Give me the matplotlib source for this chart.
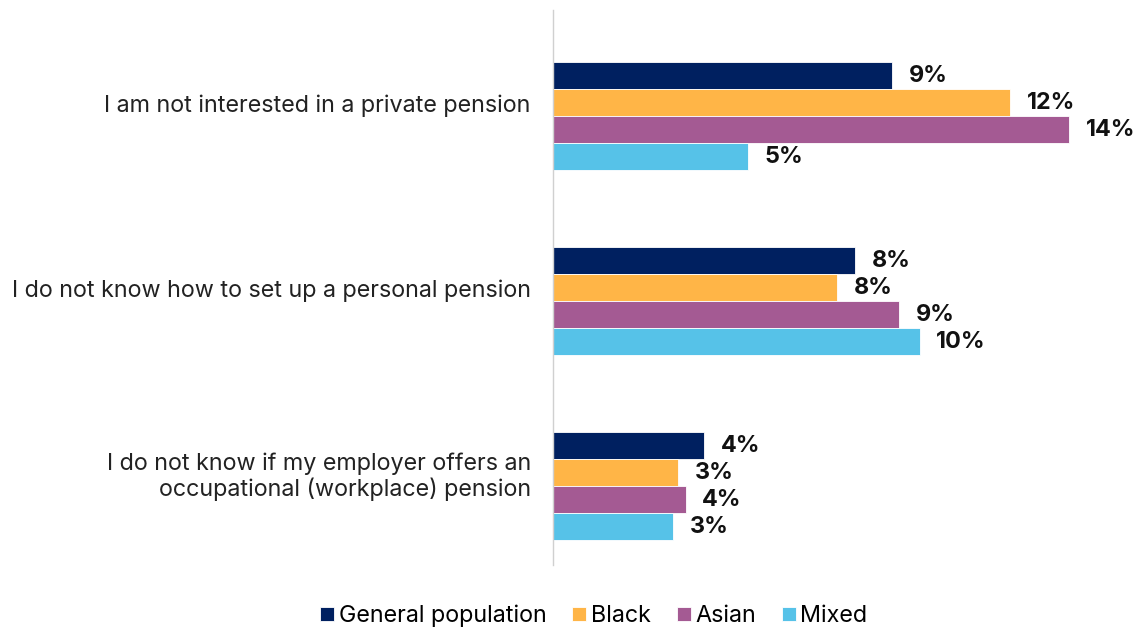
import matplotlib
matplotlib.use("Agg")
import matplotlib.pyplot as plt
import numpy as np

plt.rcParams['font.family'] = ['Inter', 'DejaVu Sans']

categories = [
    "I am not interested in a private pension",
    "I do not know how to set up a personal pension",
    "I do not know if my employer offers an\noccupational (workplace) pension",
]
series = ["General population", "Black", "Asian", "Mixed"]
general = [9.2, 8.2, 4.1]
black = [12.4, 7.7, 3.4]
asian = [14.0, 9.4, 3.6]
mixed = [5.3, 9.95, 3.25]
colors = ["#002060", "#FFB547", "#A45A93", "#56C2E8"]

values = [general, black, asian, mixed]

fig = plt.figure(figsize=(11.4, 6.28), dpi=100)
ax = fig.add_axes([553 / 1140, 1 - 565 / 628, 587 / 1140, 555 / 628])

y = np.arange(len(categories))
h = 27 / 185
for i, (name, vals, c) in enumerate(zip(series, values, colors)):
    pos = y + (i - 1.5) * h
    ax.barh(pos, vals, height=h, color=c, edgecolor="white", linewidth=0.6, label=name)
    for p, v in zip(pos, vals):
        ax.text(v + 0.45, p, f"{v:.0f}%", va="center", ha="left",
                fontsize=16.8, fontweight="bold", color="#111111")

ax.set_xlim(0, 587 / 36.86)
ax.set_ylim(2 + 79 / 185, -106.5 / 185)
# labels sit a little above the middle of each group
ax.set_yticks(y - 13 / 185)
ax.set_yticklabels(categories, fontsize=16.8, color="#222222", linespacing=1.15)
ax.tick_params(axis="y", length=0, pad=16)
ax.set_xticks([])
for s in ["top", "right", "bottom"]:
    ax.spines[s].set_visible(False)
ax.spines["left"].set_color("#d0d0d0")
ax.spines["left"].set_linewidth(1)

fig.legend(loc="center", bbox_to_anchor=(594 / 1140, 1 - 616 / 628), ncol=4,
           frameon=False, fontsize=16.8, handlelength=0.6, handleheight=0.6,
           handletextpad=0.2, columnspacing=1.1)

fig.savefig("out.png", dpi=100)
